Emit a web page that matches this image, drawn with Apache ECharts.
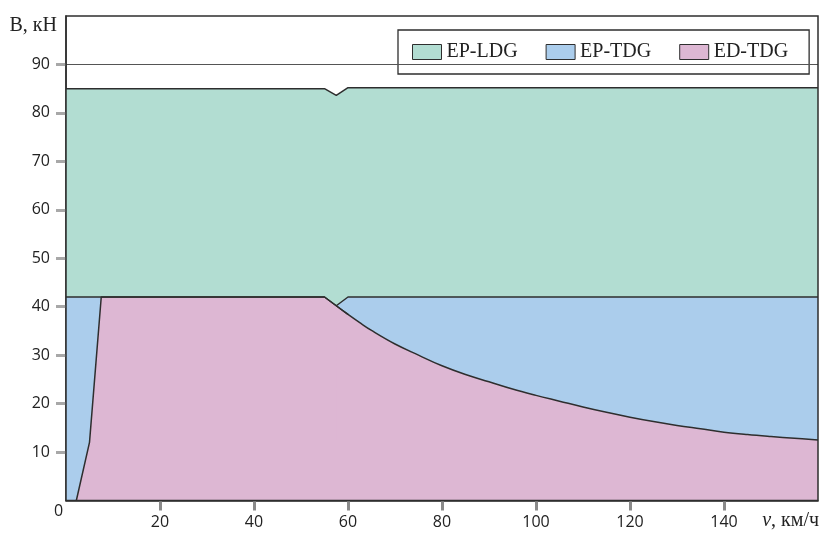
<!DOCTYPE html>
<html>
<head>
<meta charset="utf-8">
<script src="https://cdn.jsdelivr.net/npm/echarts@6/dist/echarts.min.js"></script>
<style>html,body{margin:0;padding:0;background:#fff}#c{width:822px;height:535px}</style>
</head>
<body>
<div id="c"></div>
<script>
// ---- data ----
var seriesNames = ['EP-LDG', 'EP-TDG', 'ED-TDG'];
// upper boundary of EP-LDG zone [v, B]
var epLdg = [[0, 85], [55, 85], [57.5, 83.6], [60, 85.2], [160, 85.2]];
// upper boundary of EP-TDG zone
var epTdg = [[0, 42], [55, 42], [57.5, 40.2], [60, 42], [160, 42]];
// upper boundary of ED-TDG zone: straight part
var edTdgLow = [[2.2, 0], [5, 12], [7.5, 42], [55, 42], [57.5, 40.2], [60, 38.4]];
// upper boundary of ED-TDG zone: curved part
var edTdgCurve = [[57.5, 40.2], [60, 38.4], [62.5, 36.7],
  [65, 35.1], [70, 32.3], [75, 30.0], [80, 27.8], [85, 26.0], [90, 24.5], [95, 23.0],
  [100, 21.7], [105, 20.5], [110, 19.3], [115, 18.2], [120, 17.2], [125, 16.3],
  [130, 15.5], [135, 14.8], [140, 14.1], [145, 13.6], [150, 13.2], [155, 12.85], [160, 12.5]];
var gridLineValue = 90;

var fills = ['#b2ddd2', '#abcdec', '#ddb7d3'];
var dark = '#2e2e2e';
var sans = '"Open Sans", "Noto Sans", sans-serif';
var serif = '"Liberation Serif", "DejaVu Serif", serif';

function mk(name, data, i, smooth) {
  var s = {
    name: name, type: 'line', data: data, showSymbol: false, symbol: 'none',
    smooth: smooth ? 0.4 : false,
    lineStyle: { color: dark, width: 1.5 },
    itemStyle: { color: fills[i] },
    areaStyle: { color: fills[i], opacity: 1 },
    emphasis: { disabled: true },
    animation: false
  };
  if (i === 0) {
    s.markLine = {
      silent: true, symbol: 'none', label: { show: false },
      lineStyle: { color: '#555', width: 1, type: 'solid' },
      data: [{ yAxis: gridLineValue }]
    };
  }
  return s;
}

var chart = echarts.init(document.getElementById('c'), null, { renderer: 'canvas' });
chart.setOption({
  animation: false,
  grid: { left: 66, right: 3, top: 16, bottom: 34.5, show: true, borderColor: dark, borderWidth: 1.5, z: 10 },
  legend: {
    data: seriesNames,
    left: 398, top: 30,
    padding: [12, 21, 12, 14],
    itemGap: 28,
    itemWidth: 29, itemHeight: 15,
    icon: 'rect',
    backgroundColor: '#fff',
    borderColor: dark, borderWidth: 1.3,
    itemStyle: { borderColor: dark, borderWidth: 1 },
    textStyle: { fontFamily: serif, fontSize: 20, color: '#222' },
    selectedMode: false
  },
  xAxis: {
    type: 'value', min: 0, max: 160, interval: 20,
    name: '{i|v}, км/ч', nameLocation: 'end', nameGap: 1,
    nameTextStyle: { fontFamily: serif, fontSize: 20, color: '#222', align: 'right', verticalAlign: 'middle', padding: [41, 0, 0, 0],
      rich: { i: { fontStyle: 'italic', fontFamily: serif, fontSize: 20, color: '#222' } } },
    axisLine: { show: true, lineStyle: { color: dark, width: 1.5 } },
    axisTick: { show: true, length: 10, lineStyle: { color: '#8a8a8a', width: 3 } },
    axisLabel: { showMinLabel: false, showMaxLabel: false, margin: 14, fontFamily: sans, fontSize: 16, color: '#222' },
    splitLine: { show: false }
  },
  yAxis: {
    type: 'value', min: 0, max: 100, interval: 10,
    name: 'B, кН', nameLocation: 'end', nameGap: -10,
    nameTextStyle: { fontFamily: serif, fontSize: 20, color: '#222', align: 'right', verticalAlign: 'middle', padding: [0, 9, 0, 0] },
    axisLine: { show: true, lineStyle: { color: dark, width: 1.5 } },
    axisTick: { show: true, length: 10, lineStyle: { color: '#a8a8a8', width: 3 } },
    axisLabel: { showMinLabel: false, showMaxLabel: false, margin: 16, fontFamily: sans, fontSize: 16, color: '#222' },
    splitLine: { show: false }
  },
  graphic: [{
    type: 'text', left: 54, top: 503, z: 20,
    style: { text: '0', fontFamily: sans, fontSize: 16, fill: '#222' }
  }],
  series: [mk(seriesNames[0], epLdg, 0), mk(seriesNames[1], epTdg, 1),
    mk(seriesNames[2], edTdgLow, 2), mk(seriesNames[2], edTdgCurve, 2, true)]
});
</script>
</body>
</html>
